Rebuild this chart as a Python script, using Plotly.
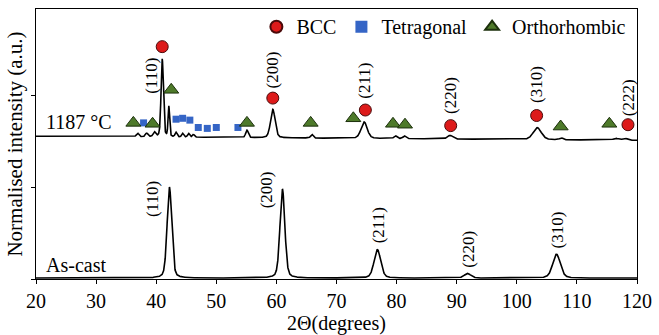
import numpy as np
import plotly.graph_objects as go

# ---------------- data ----------------
# As-cast pattern: peak positions (2theta), heights, FWHM
ac_pos = [42.2, 61.0, 76.8, 91.8, 106.6]
ac_height = [0.99, 0.97, 0.31, 0.05, 0.26]
ac_fwhm = [0.9, 0.95, 1.3, 1.3, 1.5]
ac_baseline = 0.01

# 1187 °C pattern
ht_pos = [36.9, 38.4, 39.7, 41.0, 42.1, 43.3, 44.4, 45.4, 46.2, 55.1,
          59.4, 65.9, 74.6, 79.8, 81.3, 88.9, 103.4, 107.4, 116.5, 118.0]
ht_height = [0.04, 0.04, 0.05, 0.85, 0.33, 0.05, 0.04, 0.04, 0.03, 0.08,
             0.31, 0.04, 0.18, 0.03, 0.03, 0.04, 0.13, 0.02, 0.02, 0.02]
ht_fwhm = [0.5, 0.5, 0.5, 0.45, 0.3, 0.4, 0.4, 0.4, 0.4, 0.5,
           0.9, 0.5, 1.2, 0.6, 0.6, 1.0, 1.6, 0.6, 1.0, 1.0]
ht_baseline_start = 1.555
ht_baseline_end = 1.51

# Phase markers on the 1187 °C pattern
bcc_x = [41.0, 59.4, 74.8, 89.0, 103.3, 118.5]
bcc_y = [2.53, 1.97, 1.84, 1.67, 1.78, 1.68]
tet_x = [37.9, 43.3, 44.4, 45.6, 47.0, 48.5, 50.0, 53.6]
tet_y = [1.70, 1.74, 1.75, 1.73, 1.65, 1.64, 1.65, 1.65]
orth_x = [36.2, 39.4, 42.5, 55.1, 65.7, 72.8, 79.4, 81.4, 107.3, 115.4]
orth_y = [1.70, 1.69, 2.06, 1.70, 1.70, 1.75, 1.69, 1.68, 1.66, 1.69]

# hkl labels
ht_hkl = ["(110)", "(200)", "(211)", "(220)", "(310)", "(222)"]
ht_hkl_x = [39.1, 59.4, 74.6, 89.0, 103.3, 118.5]
ht_hkl_y = [2.21, 2.28, 2.16, 2.00, 2.12, 1.98]
ac_hkl = ["(110)", "(200)", "(211)", "(220)", "(310)"]
ac_hkl_x = [39.3, 58.5, 77.0, 91.9, 106.7]
ac_hkl_y = [0.87, 0.97, 0.58, 0.32, 0.53]

sample_labels = ["1187 \u00b0C", "As-cast"]
sample_label_x = [21.3, 21.3]
sample_label_y = [1.71, 0.15]

x_ticks = [20, 30, 40, 50, 60, 70, 80, 90, 100, 110, 120]


def pattern(x, pos, height, fwhm, base):
    y = np.array(base, dtype=float) * np.ones_like(x)
    for p, h, w in zip(pos, height, fwhm):
        g = np.exp(-4 * np.log(2) * ((x - p) / w) ** 2)
        l = 1.0 / (1.0 + 4 * ((x - p) / w) ** 2)
        y += h * (0.7 * g + 0.3 * l)
    return y


x = np.linspace(20, 120, 4001)
y_ac = pattern(x, ac_pos, ac_height, ac_fwhm, ac_baseline)
y_ht = pattern(x, ht_pos, ht_height, ht_fwhm,
               np.linspace(ht_baseline_start, ht_baseline_end, x.size))

FONT = "Liberation Serif"

fig = go.Figure()
fig.add_trace(go.Scatter(x=x, y=y_ac, mode="lines", line=dict(color="black", width=1.6),
                         showlegend=False, hoverinfo="skip"))
fig.add_trace(go.Scatter(x=x, y=y_ht, mode="lines", line=dict(color="black", width=1.6),
                         showlegend=False, hoverinfo="skip"))

fig.add_trace(go.Scatter(x=bcc_x, y=bcc_y, mode="markers", name="BCC",
                         marker=dict(symbol="circle", size=12, color="#dd1a1a",
                                     line=dict(color="#4a0a0a", width=1))))
fig.add_trace(go.Scatter(x=tet_x, y=tet_y, mode="markers", name="Tetragonal",
                         marker=dict(symbol="square", size=7, color="#3565c6",
                                     line=dict(color="#3565c6", width=0))))
fig.add_trace(go.Scatter(x=orth_x, y=orth_y, mode="markers", name="Orthorhombic",
                         marker=dict(symbol="triangle-up", size=13, color="#4e7a2a",
                                     line=dict(color="#1c300c", width=1))))

for t, xx, yy in zip(ht_hkl, ht_hkl_x, ht_hkl_y):
    fig.add_annotation(x=xx, y=yy, text=t, textangle=-90, showarrow=False,
                       font=dict(size=17, family=FONT, color="black"))
for t, xx, yy in zip(ac_hkl, ac_hkl_x, ac_hkl_y):
    fig.add_annotation(x=xx, y=yy, text=t, textangle=-90, showarrow=False,
                       font=dict(size=17, family=FONT, color="black"))
for t, xx, yy in zip(sample_labels, sample_label_x, sample_label_y):
    fig.add_annotation(x=xx, y=yy, text=t, showarrow=False, xanchor="left",
                       font=dict(size=20, family=FONT, color="black"))

fig.update_layout(
    width=659, height=335,
    margin=dict(l=36, r=19, t=7, b=53),
    paper_bgcolor="white", plot_bgcolor="white",
    font=dict(family=FONT, size=20, color="black"),
    legend=dict(orientation="h", x=0.3667, y=0.9345, xanchor="left", yanchor="middle",
                bgcolor="rgba(0,0,0,0)", font=dict(size=20, family=FONT),
                itemsizing="constant", tracegroupgap=0, itemwidth=30),
)
fig.update_xaxes(range=[20, 120], tickvals=x_ticks, ticks="outside", ticklen=4,
                 tickcolor="black", showline=True, linecolor="black", linewidth=1,
                 mirror=True, showgrid=False, zeroline=False,
                 tickfont=dict(size=20, family=FONT),
                 title=dict(text="2\u0398(degrees)", font=dict(size=20, family=FONT), standoff=2))
fig.update_yaxes(range=[0, 2.94], tickvals=[0, 1, 2], showticklabels=False,
                 ticks="outside", ticklen=4, tickcolor="black",
                 showline=True, linecolor="black", linewidth=1, mirror=True,
                 showgrid=False, zeroline=False,
                 title=dict(text="Normalised intensity (a.u.)", font=dict(size=21, family=FONT),
                            standoff=2))

fig.write_html("out.html", config={"displayModeBar": False},
               post_script="document.body.style.margin='0';")
